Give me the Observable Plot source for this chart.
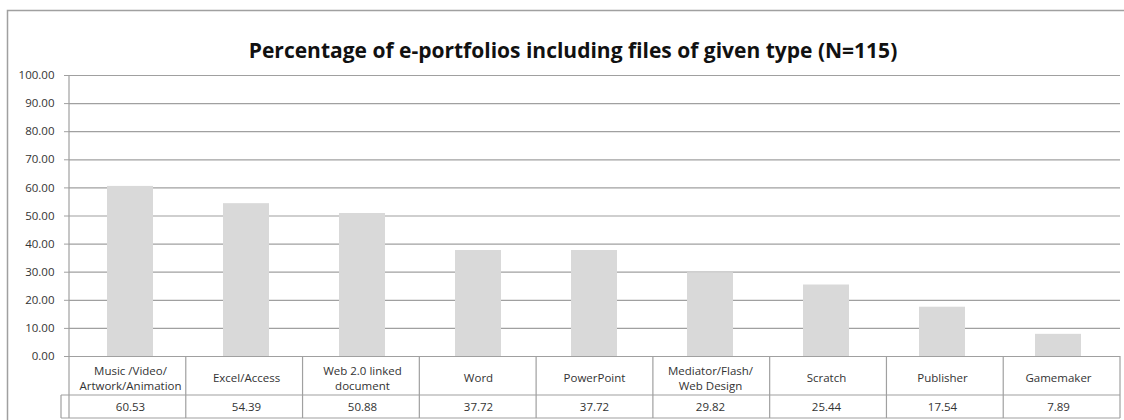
<!DOCTYPE html>
<html>
<head>
<meta charset="utf-8">
<script src="https://cdn.jsdelivr.net/npm/d3@7"></script>
<script src="https://cdn.jsdelivr.net/npm/@observablehq/plot@0.6"></script>
<style>
  html, body { margin: 0; padding: 0; background: #fff; }
  svg { display: block; }
</style>
</head>
<body>
<div id="chart"></div>
<script>
const title = "Percentage of e-portfolios including files of given type (N=115)";
const categories = [
  "Music /Video/\nArtwork/Animation",
  "Excel/Access",
  "Web 2.0 linked\ndocument",
  "Word",
  "PowerPoint",
  "Mediator/Flash/\nWeb Design",
  "Scratch",
  "Publisher",
  "Gamemaker"
];
const values = [60.53, 54.39, 50.88, 37.72, 37.72, 29.82, 25.44, 17.54, 7.89];
const yTicks = [0, 10, 20, 30, 40, 50, 60, 70, 80, 90, 100];

const data = categories.map((c, i) => ({category: c, value: values[i]}));
const lineColor = "#a0a0a0";
const textColor = "#333";
const fs = 11.5;

const plot = Plot.plot({
  width: 1124,
  height: 420,
  marginLeft: 69,
  marginRight: 4,
  marginTop: 75,
  marginBottom: 64,
  style: {fontFamily: "'Open Sans', sans-serif", fontSize: fs + "px", color: textColor, background: "#fff"},
  x: {domain: categories, paddingInner: 0.6, paddingOuter: 0.3, axis: null},
  y: {domain: [0, 100], axis: null, label: null},
  marks: [
    Plot.gridY(yTicks, {stroke: lineColor, strokeOpacity: 1, strokeWidth: 1.2}),
    Plot.barY(data, {x: "category", y: "value", fill: "#d9d9d9"}),
    Plot.axisY(yTicks, {
      tickFormat: d3.format(".2f"), tickSize: 5, tickPadding: 10, label: null,
      stroke: lineColor, fill: textColor, fontSize: fs
    }),
    Plot.text([title], {
      frameAnchor: "top", dy: -32, dx: -22,
      fontSize: 21, fontWeight: "bold", fill: "#111"
    }),
    Plot.text(data, {
      x: "category", text: "category", frameAnchor: "bottom", lineAnchor: "middle",
      dy: 21, lineHeight: 1.3, fill: textColor, fontSize: fs
    }),
    Plot.text(data, {
      x: "category", text: d => d.value.toFixed(2), frameAnchor: "bottom", lineAnchor: "middle",
      dy: 51, fill: textColor, fontSize: fs
    })
  ]
});

document.getElementById("chart").appendChild(plot);

// Data table grid lines and outer chart frame, placed with Plot's own x scale
const xs = plot.scale("x");
const x0 = xs.range[0], x1 = xs.range[1];
const yBase = 356, yMid = 395, yBot = 418;
const svg = d3.select(plot);
const g = svg.append("g").attr("stroke", lineColor).attr("stroke-width", 1.2).attr("fill", "none");
// axis line
g.append("line").attr("x1", x0).attr("x2", x0).attr("y1", 75).attr("y2", yBot);
// horizontal table lines
g.append("line").attr("x1", x0 - 8).attr("x2", x1).attr("y1", yMid).attr("y2", yMid);
g.append("line").attr("x1", x0 - 8).attr("x2", x1).attr("y1", yBot).attr("y2", yBot);
g.append("line").attr("x1", x0 - 8).attr("x2", x0 - 8).attr("y1", yMid).attr("y2", yBot);
// vertical dividers at category boundaries
const step = (x1 - x0) / categories.length;
for (let i = 1; i <= categories.length; i++) {
  const xv = x0 + step * i;
  g.append("line").attr("x1", xv).attr("x2", xv).attr("y1", yBase).attr("y2", yBot);
}
// outer chart frame
g.append("rect").attr("x", 7.5).attr("y", 10.5).attr("width", 1300).attr("height", 600)
  .attr("stroke-width", 1.5);
</script>
</body>
</html>
